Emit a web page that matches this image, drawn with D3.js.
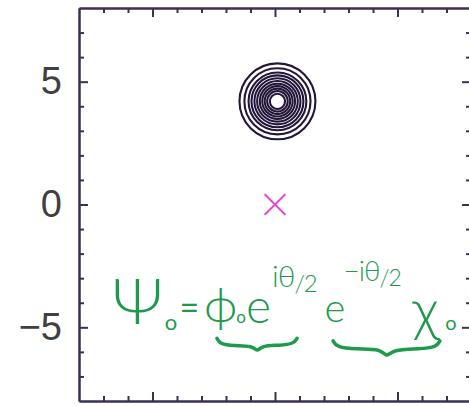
<!DOCTYPE html>
<html>
<head>
<meta charset="utf-8">
<script src="https://cdn.jsdelivr.net/npm/d3@7"></script>
<style>
  html, body { margin: 0; padding: 0; background: #ffffff; }
  svg { display: block; }
</style>
</head>
<body>
<svg id="chart" width="469" height="406"></svg>
<script>
// Axis extents and ticks (plot units)
const xDomain = [-8, 8];
const yDomain = [-8, 8];
const majorTicks = [-5, 0, 5];
const minorTicks = d3.range(-7, 8);

// Concentric contour rings of the packet, centred at (ringCenterX, ringCenterY)
const ringCenterX = [0.1];
const ringCenterY = [4.2];
const ringRadii = [1.55, 1.35, 1.18, 1.06, 0.94, 0.83, 0.72, 0.62, 0.52, 0.42, 0.31];

// Marker at the origin
const markerX = [0];
const markerY = [0];

// Handwritten annotation Ψ₀ = ϕ₀ e^{iθ/2} e^{-iθ/2} χ₀, laid out in plot units
const noteLayout = [
  { parts: [["Ψ", 64]],                     x: -6.65, y: -4.85, w: 300 },
  { parts: [["o", 22]],                     x: -4.50, y: -5.10, w: 400 },
  { parts: [["=", 34]],                     x: -3.90, y: -4.72, w: 400 },
  { parts: [["ϕ", 48]],                     x: -2.90, y: -4.80, w: 300 },
  { parts: [["o", 17]],                     x: -1.58, y: -4.82, w: 400 },
  { parts: [["e", 48]],                     x: -1.18, y: -4.82, w: 300 },
  { parts: [["iθ", 30], ["/2", 24, 5]],     x: -0.12, y: -3.35, w: 300 },
  { parts: [["e", 40]],                     x:  2.02, y: -4.80, w: 300 },
  { parts: [["−iθ", 28], ["/2", 23, 5]],    x:  2.80, y: -3.10, w: 300 },
  { parts: [["χ", 58]],                     x:  5.60, y: -5.10, w: 300 },
  { parts: [["o", 20]],                     x:  6.95, y: -5.10, w: 400 }
];

// Underbraces beneath the two factors
const brace1 = [[-2.37,-5.45],[-2.25,-5.68],[-1.7,-5.76],[-0.9,-5.74],[-0.72,-6.02],[-0.55,-5.74],[0.2,-5.74],[0.78,-5.66],[0.9,-5.45]];
const brace2 = [[2.37,-5.55],[2.5,-5.80],[3.3,-5.90],[4.35,-5.86],[4.55,-6.25],[4.8,-5.90],[5.9,-5.88],[6.6,-5.80],[6.73,-5.55]];

const svg = d3.select("#chart");
const x = d3.scaleLinear().domain(xDomain).range([79, 471]);
const y = d3.scaleLinear().domain(yDomain).range([401, 8]);

const axisColor = "#3d3050";
const green = "#1f9a4d";

// Frame: four axes with inward-pointing ticks
function styleAxis(g) {
  g.select(".domain").attr("stroke", axisColor).attr("stroke-width", 2);
  g.selectAll(".tick line").attr("stroke", axisColor).attr("stroke-width", 2);
}
const sides = [
  { make: () => d3.axisLeft(y),   t: `translate(${x(xDomain[0])},0)`, label: true },
  { make: () => d3.axisRight(y),  t: `translate(${x(xDomain[1])},0)`, label: false },
  { make: () => d3.axisBottom(x), t: `translate(0,${y(yDomain[0])})`, label: false },
  { make: () => d3.axisTop(x),    t: `translate(0,${y(yDomain[1])})`, label: false }
];
sides.forEach(s => {
  svg.append("g").attr("transform", s.t)
    .call(s.make().tickValues(minorTicks.filter(v => !majorTicks.includes(v)))
      .tickSizeInner(-5).tickSizeOuter(0).tickFormat(""))
    .call(styleAxis);
  const g = svg.append("g").attr("transform", s.t)
    .call(s.make().tickValues(majorTicks).tickSizeInner(-9).tickSizeOuter(0)
      .tickPadding(17).tickFormat(s.label ? d3.format("d") : () => ""))
    .call(styleAxis);
  g.selectAll(".tick text")
    .attr("font-family", "Liberation Sans, Arial, sans-serif")
    .attr("font-size", 38)
    .attr("fill", "#404040");
});

// Contour rings
const unit = x(1) - x(0);
svg.append("g").selectAll("circle")
  .data(ringRadii)
  .join("circle")
  .attr("cx", x(ringCenterX[0]))
  .attr("cy", y(ringCenterY[0]))
  .attr("r", d => d * unit)
  .attr("fill", "none")
  .attr("stroke", "#24163a")
  .attr("stroke-width", 2.1);

// Origin marker (×)
const h = 0.4;
const mk = svg.append("g").attr("stroke", "#e04ccf").attr("stroke-width", 2).attr("stroke-linecap", "round");
markerX.forEach((mx, i) => {
  const my = markerY[i];
  mk.append("line").attr("x1", x(mx - h)).attr("y1", y(my + h)).attr("x2", x(mx + h)).attr("y2", y(my - h));
  mk.append("line").attr("x1", x(mx - h)).attr("y1", y(my - h)).attr("x2", x(mx + h)).attr("y2", y(my + h));
});

// Annotation text
const notes = svg.append("g")
  .attr("font-family", "Lato, DejaVu Sans, sans-serif")
  .attr("fill", green)
  .selectAll("text")
  .data(noteLayout)
  .join("text")
  .attr("x", d => x(d.x))
  .attr("y", d => y(d.y))
  .attr("font-weight", d => d.w)
  .attr("letter-spacing", d => d.parts.length > 1 ? -1 : 0);
notes.selectAll("tspan")
  .data(d => d.parts)
  .join("tspan")
  .attr("font-size", p => p[1])
  .attr("dy", p => p[2] || 0)
  .text(p => p[0]);

// Underbraces
const braceLine = d3.line().x(d => x(d[0])).y(d => y(d[1])).curve(d3.curveBasis);
svg.append("g").selectAll("path")
  .data([brace1, brace2])
  .join("path")
  .attr("d", braceLine)
  .attr("fill", "none")
  .attr("stroke", green)
  .attr("stroke-width", 3.5)
  .attr("stroke-linecap", "round");
</script>
</body>
</html>
